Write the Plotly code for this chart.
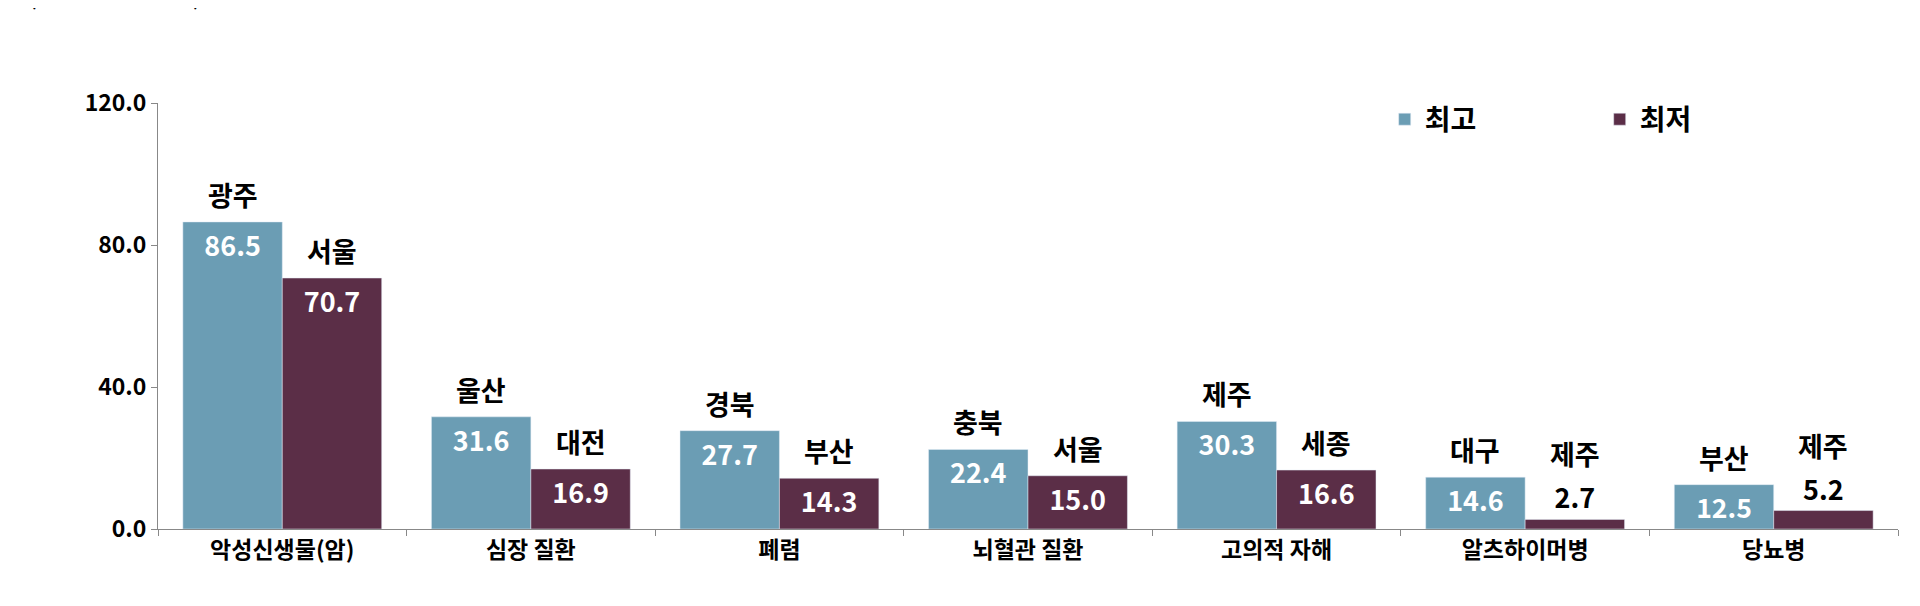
import plotly.graph_objects as go

categories = ["악성신생물(암)", "심장 질환", "폐렴", "뇌혈관 질환", "고의적 자해", "알츠하이머병", "당뇨병"]
high_vals = [86.5, 31.6, 27.7, 22.4, 30.3, 14.6, 12.5]
low_vals = [70.7, 16.9, 14.3, 15.0, 16.6, 2.7, 5.2]
high_regions = ["광주", "울산", "경북", "충북", "제주", "대구", "부산"]
low_regions = ["서울", "대전", "부산", "서울", "세종", "제주", "제주"]
y_ticks = [0, 40, 80, 120]

F = "Noto Sans CJK KR"
c_hi, c_lo = "#6B9DB4", "#5B2E47"
S = 27

fig = go.Figure()
fig.add_bar(x=categories, y=high_vals, name="최고", marker_color=c_hi,
            text=[f"{v:.1f}" for v in high_vals], textposition="inside",
            insidetextanchor="end", textangle=0, cliponaxis=False,
            textfont=dict(family=F, size=S, color="white", weight="bold"))
lo_pos = ["inside" if v > 10 else "outside" for v in low_vals]
fig.add_bar(x=categories, y=low_vals, name="최저", marker_color=c_lo,
            text=[f"{v:.1f}" for v in low_vals], textposition=lo_pos,
            insidetextanchor="end", textangle=0, cliponaxis=False,
            outsidetextfont=dict(family=F, size=S, color="black", weight="bold"),
            insidetextfont=dict(family=F, size=S, color="white", weight="bold"))

for i, c in enumerate(categories):
    fig.add_annotation(x=i - 0.2, y=high_vals[i], text=high_regions[i], showarrow=False,
                       yanchor="bottom", yshift=6, font=dict(family=F, size=S, color="black", weight="bold"))
    fig.add_annotation(x=i + 0.2, y=low_vals[i], text=low_regions[i], showarrow=False,
                       yanchor="bottom", yshift=6 if low_vals[i] > 10 else 44,
                       font=dict(family=F, size=S, color="black", weight="bold"))

fig.add_annotation(xref="paper", yref="paper", x=-0.075, y=1.28, xanchor="left", showarrow=False,
                   text="(표준인구 10만 명당 명)", font=dict(family=F, size=17, color="black", weight="bold"))

fig.update_layout(
    width=1920, height=606, barmode="group", bargap=0.2, bargroupgap=0,
    plot_bgcolor="white", paper_bgcolor="white",
    margin=dict(l=150, r=30, t=95, b=85),
    showlegend=True,
    legend=dict(orientation="h", x=0.705, y=1.02, xanchor="left", yanchor="top",
                font=dict(family=F, size=28, color="black", weight="bold"),
                itemwidth=30, tracegroupgap=0, entrywidth=170),
    font=dict(family=F, color="black"),
)
fig.update_yaxes(range=[0, 120], tickvals=y_ticks, tickformat=".1f", showgrid=False,
                 showline=True, linecolor="#888", ticks="outside", ticklen=6, tickcolor="#888",
                 tickfont=dict(family=F, size=23, weight="bold"), zeroline=False)
fig.update_xaxes(showline=True, linecolor="#888", ticks="outside", tickson="boundaries",
                 ticklen=6, tickcolor="#888", tickfont=dict(family=F, size=23, weight="bold"))

fig.write_html("out.html")
